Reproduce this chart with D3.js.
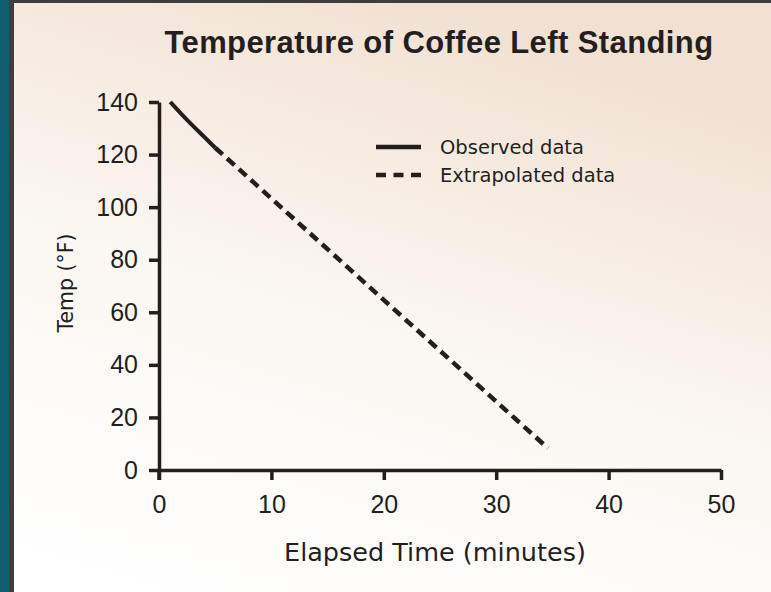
<!DOCTYPE html>
<html>
<head>
<meta charset="utf-8">
<script src="https://cdn.jsdelivr.net/npm/d3@7"></script>
<style>
  body { margin: 0; background: #fff; }
  svg { display: block; }
  text { font-family: "DejaVu Sans", sans-serif; fill: #231f1e; }
  .tick text, .title { font-family: "Liberation Sans", Arial, sans-serif; }
</style>
</head>
<body>
<div id="chart"></div>
<script>
const width = 771;
const height = 592;

// data
const observedTime = [1, 2, 3, 4, 5];
const observedTemp = [140, 135.4, 131, 126.8, 122.6];
const extrapolatedTime = [5, 34.6];
const extrapolatedTemp = [122.6, 8.3];
const xTicks = [0, 10, 20, 30, 40, 50];
const yTicks = [0, 20, 40, 60, 80, 100, 120, 140];
const legendLabels = ["Observed data", "Extrapolated data"];

const ink = "#231f1e";

const svg = d3.select("#chart").append("svg")
  .attr("width", width)
  .attr("height", height);

// paper background (it is a photo of a printed page)
const defs = svg.append("defs");
const grad = defs.append("linearGradient")
  .attr("id", "paper")
  .attr("x1", "0.15").attr("y1", "1")
  .attr("x2", "0.55").attr("y2", "0");
grad.append("stop").attr("offset", "0").attr("stop-color", "#ffffff");
grad.append("stop").attr("offset", "0.5").attr("stop-color", "#fbf7f2");
grad.append("stop").attr("offset", "1").attr("stop-color", "#f1e1d2");

svg.append("rect").attr("width", width).attr("height", height).attr("fill", "url(#paper)");
svg.append("rect").attr("width", width).attr("height", 3).attr("fill", "#3e3e3e");
svg.append("rect").attr("x", 0).attr("width", 14).attr("height", height).attr("fill", "#3e3e3e");
svg.append("rect").attr("x", 0).attr("width", 9).attr("height", height).attr("fill", "#0f5e6f");

const margin = { left: 159, right: 50, top: 102, bottom: 122 };

const x = d3.scaleLinear().domain([0, 50]).range([margin.left, width - margin.right]);
const y = d3.scaleLinear().domain([0, 140]).range([height - margin.bottom, margin.top]);

// axes
const xAxis = svg.append("g")
  .attr("transform", `translate(0,${y(0)})`)
  .call(d3.axisBottom(x).tickValues(xTicks).tickSize(10).tickPadding(15).tickSizeOuter(0));

const yAxis = svg.append("g")
  .attr("transform", `translate(${x(0)},0)`)
  .call(d3.axisLeft(y).tickValues(yTicks).tickSize(10).tickPadding(11).tickSizeOuter(0));

[xAxis, yAxis].forEach(g => {
  g.select(".domain").attr("stroke", ink).attr("stroke-width", 3.5);
  g.selectAll(".tick line").attr("stroke", ink).attr("stroke-width", 3.5);
  g.selectAll(".tick text").style("font-size", "25px").attr("fill", ink);
});

// y axis runs a little below the x axis
svg.append("line")
  .attr("x1", x(0)).attr("x2", x(0))
  .attr("y1", y(0)).attr("y2", y(0) + 10)
  .attr("stroke", ink).attr("stroke-width", 3.5);

// lines
const line = d3.line().x(d => x(d[0])).y(d => y(d[1])).curve(d3.curveMonotoneX);

svg.append("path")
  .datum(d3.zip(observedTime, observedTemp))
  .attr("d", line)
  .attr("fill", "none")
  .attr("stroke", ink)
  .attr("stroke-width", 4);

svg.append("path")
  .datum(d3.zip(extrapolatedTime, extrapolatedTemp))
  .attr("d", line)
  .attr("fill", "none")
  .attr("stroke", ink)
  .attr("stroke-width", 4.5)
  .attr("stroke-dasharray", "10,6");

// legend
const legend = svg.append("g").attr("transform", "translate(376,147)");
legend.selectAll("line")
  .data(legendLabels)
  .enter().append("line")
  .attr("x1", 0).attr("x2", 45)
  .attr("y1", (d, i) => i * 28).attr("y2", (d, i) => i * 28)
  .attr("stroke", ink)
  .attr("stroke-width", 4.5)
  .attr("stroke-dasharray", (d, i) => i === 0 ? null : "10,7.5");
legend.selectAll("text")
  .data(legendLabels)
  .enter().append("text")
  .attr("x", 64)
  .attr("y", (d, i) => i * 28)
  .attr("dy", "0.36em")
  .style("font-size", "19.5px")
  .text(d => d);

// titles
svg.append("text")
  .attr("class", "title")
  .attr("x", 439).attr("y", 53)
  .attr("text-anchor", "middle")
  .style("font-size", "31px")
  .style("font-weight", "bold")
  .style("letter-spacing", "0.4px")
  .text("Temperature of Coffee Left Standing");

svg.append("text")
  .attr("x", 435).attr("y", 561)
  .attr("text-anchor", "middle")
  .style("font-size", "25.5px")
  .text("Elapsed Time (minutes)");

svg.append("text")
  .attr("transform", "translate(73,283) rotate(-90)")
  .attr("text-anchor", "middle")
  .style("font-size", "20.5px")
  .text("Temp (°F)");
</script>
</body>
</html>
